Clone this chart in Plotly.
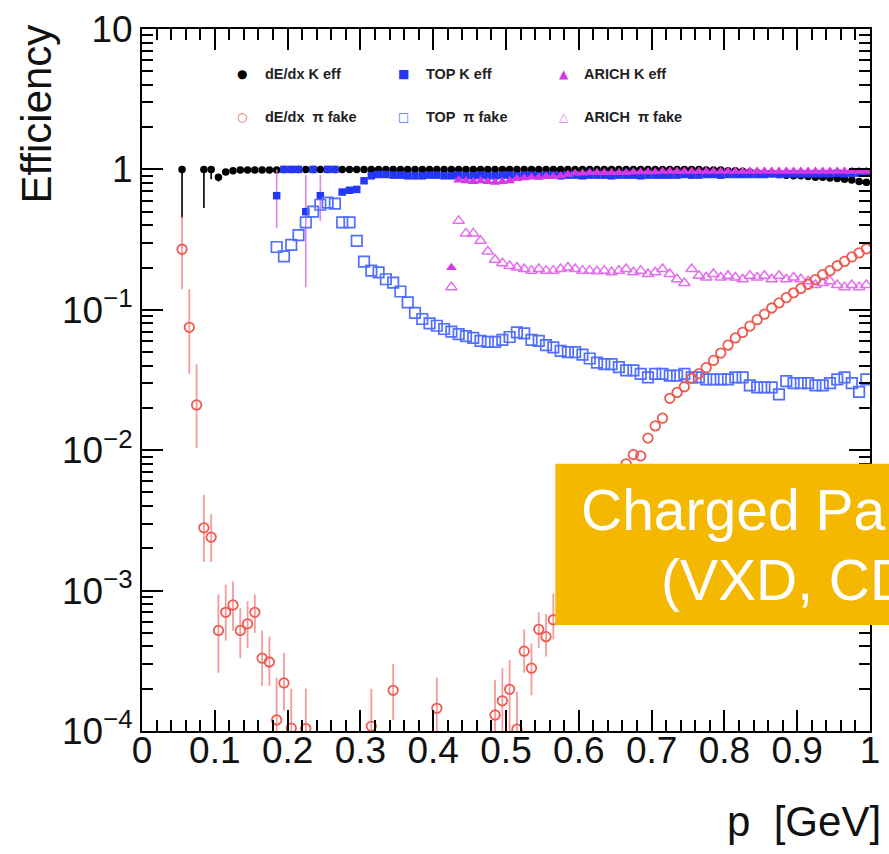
import plotly.graph_objects as go

# ---------------- data ----------------
# dE/dx K efficiency (black dots)
dedx_k_p = [0.055, 0.085, 0.095, 0.105, 0.115, 0.125, 0.135, 0.145, 0.155, 0.165, 0.175,
            0.185, 0.195, 0.205, 0.215, 0.225, 0.235, 0.245, 0.255, 0.265, 0.275, 0.285,
            0.295, 0.305, 0.315, 0.325, 0.335, 0.345, 0.355, 0.365, 0.375, 0.385, 0.395,
            0.405, 0.415, 0.425, 0.435, 0.445, 0.455, 0.465, 0.475, 0.485, 0.495, 0.505,
            0.515, 0.525, 0.535, 0.545, 0.555, 0.565, 0.575, 0.585, 0.595, 0.605, 0.615,
            0.625, 0.635, 0.645, 0.655, 0.665, 0.675, 0.685, 0.695, 0.705, 0.715, 0.725,
            0.735, 0.745, 0.755, 0.765, 0.775, 0.785, 0.795, 0.805, 0.815, 0.825, 0.835,
            0.845, 0.855, 0.865, 0.875, 0.885, 0.895, 0.905, 0.915, 0.925, 0.935, 0.945,
            0.955, 0.965, 0.975, 0.985, 0.995]
dedx_k_eff = [1.0, 1.0, 1.0, 0.88, 0.96, 0.98, 0.99, 0.99, 0.99, 0.99, 0.99,
              0.99, 1.0, 1.0, 1.0, 1.0, 1.0, 1.0, 1.0, 1.0, 1.0, 1.0,
              1.0, 1.0, 1.0, 1.0, 1.0, 1.0, 1.0, 1.0, 1.0, 1.0, 1.0,
              1.0, 1.0, 1.0, 1.0, 1.0, 1.0, 1.0, 1.0, 1.0, 1.0, 1.0,
              1.0, 1.0, 1.0, 1.0, 1.0, 1.0, 1.0, 1.0, 1.0, 1.0, 1.0,
              1.0, 1.0, 1.0, 1.0, 1.0, 1.0, 1.0, 1.0, 1.0, 1.0, 1.0,
              1.0, 1.0, 1.0, 1.0, 0.99, 0.99, 0.99, 0.98, 0.98, 0.97, 0.96,
              0.95, 0.94, 0.93, 0.92, 0.91, 0.90, 0.90, 0.89, 0.88, 0.88, 0.87,
              0.86, 0.85, 0.84, 0.82, 0.81]
dedx_k_err_lo = [0.55, 0.47, 0.15, 0.06]  # lower error bars of the first bins

# dE/dx pi fake rate (red open circles)
dedx_pi_p = [0.055, 0.065, 0.075, 0.085, 0.095, 0.105, 0.115, 0.125, 0.135, 0.145, 0.155,
             0.165, 0.175, 0.185, 0.195, 0.205, 0.225, 0.315, 0.345, 0.405, 0.485, 0.495,
             0.505, 0.515, 0.525, 0.535, 0.545, 0.555, 0.565, 0.665, 0.675, 0.685, 0.695,
             0.705, 0.715, 0.725, 0.735, 0.745, 0.755, 0.765, 0.775, 0.785, 0.795, 0.805,
             0.815, 0.825, 0.835, 0.845, 0.855, 0.865, 0.875, 0.885, 0.895, 0.905, 0.915,
             0.925, 0.935, 0.945, 0.955, 0.965, 0.975, 0.985, 0.995]
dedx_pi_fake = [0.27, 0.075, 0.021, 0.0028, 0.0024, 0.00052, 0.0007, 0.00079, 0.00052, 0.00058, 0.0007,
                0.00033, 0.00031, 0.00012, 0.00022, 0.000105, 0.000104, 0.000108, 0.000195, 0.000145, 0.00013, 0.000164,
                0.000198, 0.000103, 0.00037, 0.00028, 0.00053, 0.00047, 0.00062, 0.0080, 0.0093, 0.0091, 0.0122,
                0.0149, 0.0169, 0.0234, 0.0258, 0.0283, 0.0325, 0.0351, 0.0387, 0.0436, 0.0492, 0.056,
                0.063, 0.069, 0.0766, 0.085, 0.093, 0.103, 0.112, 0.122, 0.132, 0.142, 0.152,
                0.164, 0.178, 0.190, 0.206, 0.221, 0.238, 0.254, 0.272]
dedx_pi_hi = [0.46, 0.14, 0.041, 0.0048, 0.0035, 0.00094, 0.0011, 0.00116, 0.00075, 0.00084, 0.00094,
              0.00052, 0.00047, 0.00024, 0.00036, 0.0002, 0.0002, 0.0002, 0.0003, 0.00024, 0.00023, 0.00028,
              0.00032, 0.00019, 0.00053, 0.00042, 0.0007, 0.00068, 0.00095]
dedx_pi_lo = [0.14, 0.035, 0.0104, 0.0016, 0.0016, 0.00026, 0.00044, 0.00052, 0.00033, 0.00039, 0.0005,
              0.00021, 0.00021, 0.00005, 0.00014, 0.00005, 0.00005, 0.00005, 0.00012, 0.00005, 0.00005, 0.00005,
              0.00005, 0.00005, 0.00026, 0.00018, 0.00039, 0.00034, 0.00045]

# TOP K efficiency (blue filled squares)
top_p = [round(0.185 + 0.01 * i, 3) for i in range(82)]
top_k_eff = [0.65, 1.0, 1.0, 1.0, 0.50, 1.0, 0.65, 1.0, 1.0, 0.69,
             0.71, 0.72, 0.83, 0.90, 0.92, 0.92, 0.91, 0.91, 0.90, 0.90,
             0.90, 0.91, 0.91, 0.90, 0.90, 0.91, 0.90, 0.90, 0.91, 0.90,
             0.90, 0.91, 0.91, 0.90, 0.91, 0.91, 0.90, 0.91, 0.91, 0.90,
             0.91, 0.91, 0.90, 0.91, 0.91, 0.91, 0.90, 0.91, 0.91, 0.91,
             0.90, 0.91, 0.91, 0.91, 0.91, 0.91, 0.92, 0.91, 0.91, 0.92,
             0.92, 0.91, 0.92, 0.92, 0.92, 0.92, 0.92, 0.92, 0.93, 0.92,
             0.93, 0.93, 0.93, 0.93, 0.93, 0.93, 0.93, 0.94, 0.93, 0.94,
             0.94, 0.94]
top_k_err_hi = [0.35, 0, 0, 0, 0.41, 0, 0.26]
top_k_err_lo = [0.27, 0, 0, 0, 0.355, 0, 0.22]

# TOP pi fake rate (blue open squares)
top_pi_fake = [0.28, 0.24, 0.29, 0.34, 0.42, 0.50, 0.56, 0.58, 0.57, 0.42,
               0.42, 0.31, 0.22, 0.19, 0.185, 0.165, 0.156, 0.135, 0.113, 0.095,
               0.086, 0.080, 0.077, 0.073, 0.070, 0.067, 0.065, 0.063, 0.060, 0.059,
               0.059, 0.061, 0.064, 0.069, 0.068, 0.061, 0.060, 0.056, 0.054, 0.051,
               0.050, 0.050, 0.048, 0.045, 0.042, 0.041, 0.041, 0.039, 0.037, 0.037,
               0.035, 0.033, 0.035, 0.035, 0.034, 0.034, 0.035, 0.033, 0.033, 0.032,
               0.032, 0.032, 0.032, 0.033, 0.033, 0.029, 0.028, 0.028, 0.028, 0.025,
               0.031, 0.030, 0.030, 0.030, 0.029, 0.029, 0.030, 0.032, 0.033, 0.030,
               0.026, 0.032]

# ARICH K efficiency (magenta filled triangles) and pi fake (magenta open triangles)
arich_p = [round(0.425 + 0.01 * i, 3) for i in range(58)]
arich_k_eff = [0.20, 0.84, 0.83, 0.82, 0.83, 0.82, 0.81, 0.82, 0.83, 0.86,
               0.87, 0.88, 0.88, 0.89, 0.89, 0.90, 0.92, 0.94, 0.94, 0.95,
               0.95, 0.95, 0.95, 0.95, 0.95, 0.96, 0.96, 0.96, 0.96, 0.97,
               0.97, 0.97, 0.97, 0.97, 0.97, 0.97, 0.97, 0.97, 0.97, 0.97,
               0.97, 0.97, 0.97, 0.97, 0.97, 0.97, 0.97, 0.97, 0.97, 0.97,
               0.97, 0.97, 0.97, 0.97, 0.97, 0.97, 0.97, 0.97]
arich_pi_fake = [0.145, 0.43, 0.35, 0.35, 0.31, 0.26, 0.227, 0.215, 0.205, 0.20,
                 0.195, 0.19, 0.195, 0.19, 0.19, 0.195, 0.20, 0.195, 0.19, 0.19,
                 0.188, 0.19, 0.185, 0.19, 0.195, 0.185, 0.19, 0.18, 0.185, 0.195,
                 0.18, 0.165, 0.155, 0.195, 0.175, 0.17, 0.18, 0.17, 0.175, 0.17,
                 0.165, 0.175, 0.17, 0.175, 0.165, 0.175, 0.165, 0.17, 0.165, 0.16,
                 0.15, 0.155, 0.16, 0.15, 0.145, 0.15, 0.145, 0.15]

x_tick_vals = [0, 0.1, 0.2, 0.3, 0.4, 0.5, 0.6, 0.7, 0.8, 0.9, 1.0]
x_tick_text = ["0", "0.1", "0.2", "0.3", "0.4", "0.5", "0.6", "0.7", "0.8", "0.9", "1"]
y_tick_vals = [1e-4, 1e-3, 1e-2, 1e-1, 1, 10]
y_tick_text = ["10<sup>−4</sup>", "10<sup>−3</sup>", "10<sup>−2</sup>", "10<sup>−1</sup>", "1", "10"]
y_minor_vals = [k * 10.0 ** e for e in range(-4, 1) for k in range(2, 10)]

legend_rows = [["dE/dx K eff", "TOP K eff", "ARICH K eff"],
               ["dE/dx  π fake", "TOP  π fake", "ARICH  π fake"]]
legend_glyphs = [["●", "■", "▲"], ["○", "□", "△"]]

box_lines = ["Charged Particle ID", "(VXD, CDC)"]

# ---------------- styling ----------------
W, H = 889, 854
PL, PR, PT, PB = 142, 880, 22, 731
FONT = "Liberation Sans, Arial, Helvetica, sans-serif"
BLACK = "#000000"
RED = "rgb(236,92,82)"
RED_ERR = "rgba(240,120,120,0.75)"
BLUE = "rgb(35,55,245)"
BLUE_OPEN = "rgb(80,110,255)"
MAG = "rgb(215,55,230)"
MAG_OPEN = "rgb(228,110,238)"
MAG_ERR = "rgba(225,120,235,0.9)"
ORANGE = "#F5B800"


def xp(px):
    return (px - PL) / (PR - PL)


def yp(py):
    return (PB - py) / (PB - PT)


# error arrays built from the read bounds
n_lo = len(dedx_k_err_lo)
black_minus = dedx_k_err_lo + [0] * (len(dedx_k_p) - n_lo)
n_red = len(dedx_pi_hi)
red_plus = [h - v for h, v in zip(dedx_pi_hi, dedx_pi_fake)] + [0] * (len(dedx_pi_p) - n_red)
red_minus = [v - l for l, v in zip(dedx_pi_lo, dedx_pi_fake)] + [0] * (len(dedx_pi_p) - n_red)
top_plus = top_k_err_hi + [0] * (len(top_p) - len(top_k_err_hi))
top_minus = top_k_err_lo + [0] * (len(top_p) - len(top_k_err_lo))

fig = go.Figure()

fig.add_trace(go.Scatter(
    x=dedx_k_p, y=dedx_k_eff, mode="markers", name="dE/dx K eff",
    marker=dict(symbol="circle", size=7.5, color=BLACK),
    error_y=dict(type="data", symmetric=False, array=[0] * len(dedx_k_p),
                 arrayminus=black_minus, color=BLACK, thickness=1.6, width=0),
))
fig.add_trace(go.Scatter(
    x=top_p, y=top_k_eff, mode="markers", name="TOP K eff",
    marker=dict(symbol="square", size=7.5, color=BLUE),
    error_y=dict(type="data", symmetric=False, array=top_plus, arrayminus=top_minus,
                 color=MAG_ERR, thickness=1.6, width=0),
))
fig.add_trace(go.Scatter(
    x=top_p, y=top_pi_fake, mode="markers", name="TOP π fake",
    marker=dict(symbol="square-open", size=10.5, color=BLUE_OPEN, line=dict(width=1.7)),
))
fig.add_trace(go.Scatter(
    x=arich_p, y=arich_k_eff, mode="markers", name="ARICH K eff",
    marker=dict(symbol="triangle-up", size=9.5, color=MAG),
))
fig.add_trace(go.Scatter(
    x=arich_p, y=arich_pi_fake, mode="markers", name="ARICH π fake",
    marker=dict(symbol="triangle-up-open", size=10, color=MAG_OPEN, line=dict(width=1.5)),
))
fig.add_trace(go.Scatter(
    x=dedx_pi_p, y=dedx_pi_fake, mode="markers", name="dE/dx π fake",
    marker=dict(symbol="circle-open", size=9.5, color=RED, line=dict(width=1.8)),
    error_y=dict(type="data", symmetric=False, array=red_plus, arrayminus=red_minus,
                 color=RED_ERR, thickness=1.8, width=0),
))

annotations = []
# legend (manual, 3 columns x 2 rows)
glyph_colors = [[BLACK, BLUE, MAG], [RED, BLUE_OPEN, MAG_OPEN]]
glyph_x = [243, 407, 570]
text_x = [265, 428, 588]
row_y = [67, 111]
for r in range(2):
    for c in range(3):
        annotations.append(dict(
            xref="paper", yref="paper", x=xp(glyph_x[c]), y=yp(row_y[r]),
            text=legend_glyphs[r][c], showarrow=False, xanchor="center", yanchor="middle",
            font=dict(family="DejaVu Sans", size=12, color=glyph_colors[r][c])))
        annotations.append(dict(
            xref="paper", yref="paper", x=xp(text_x[c]), y=yp(row_y[r]),
            text="<b>" + legend_rows[r][c] + "</b>", showarrow=False,
            xanchor="left", yanchor="middle",
            font=dict(family=FONT, size=14.5, color="#222222")))

# axis titles
annotations.append(dict(
    xref="paper", yref="paper", x=xp(893), y=yp(822), text="p\u00a0 [GeV]",
    showarrow=False, xanchor="right", yanchor="middle",
    font=dict(family=FONT, size=42, color="#111111")))
annotations.append(dict(
    xref="paper", yref="paper", x=xp(35), y=yp(108), text="Efficiency",
    showarrow=False, textangle=-90, xanchor="center", yanchor="middle",
    font=dict(family=FONT, size=42, color="#111111")))

# orange overlay box text (the box runs off the right edge, as in the original)
annotations.append(dict(
    xref="paper", yref="paper", x=xp(585), y=yp(508), text=box_lines[0],
    showarrow=False, xanchor="left", yanchor="middle",
    font=dict(family=FONT, size=57, color="white")))
annotations.append(dict(
    xref="paper", yref="paper", x=xp(666), y=yp(578), text=box_lines[1],
    showarrow=False, xanchor="left", yanchor="middle",
    font=dict(family=FONT, size=57, color="white")))

shapes = [dict(type="rect", xref="paper", yref="paper",
               x0=xp(561), x1=xp(905), y0=yp(624), y1=yp(461),
               fillcolor=ORANGE, line=dict(width=0), layer="above")]

axis_common = dict(
    showline=True, linecolor="black", linewidth=2, mirror="allticks",
    ticks="inside", tickcolor="black", tickwidth=1.5, ticklen=21,
    showgrid=False, zeroline=False,
    tickfont=dict(family=FONT, size=37, color="#111111"),
)

fig.update_layout(
    width=W, height=H,
    margin=dict(l=PL, r=W - PR, t=PT, b=H - PB),
    paper_bgcolor="white", plot_bgcolor="white",
    showlegend=False,
    xaxis=dict(range=[0, 1], tickmode="array", tickvals=x_tick_vals, ticktext=x_tick_text,
               ticklabelstandoff=-14,
               minor=dict(ticks="inside", dtick=0.02, tick0=0, ticklen=11,
                          tickwidth=1.5, tickcolor="black", showgrid=False),
               **axis_common),
    yaxis=dict(type="log", range=[-4, 1], tickmode="array", tickvals=y_tick_vals,
               ticktext=y_tick_text,
               minor=dict(ticks="inside", tickmode="array", tickvals=y_minor_vals,
                          ticklen=11, tickwidth=1.5, tickcolor="black", showgrid=False),
               **axis_common),
    annotations=annotations,
    shapes=shapes,
)

fig.write_html("out.html")
